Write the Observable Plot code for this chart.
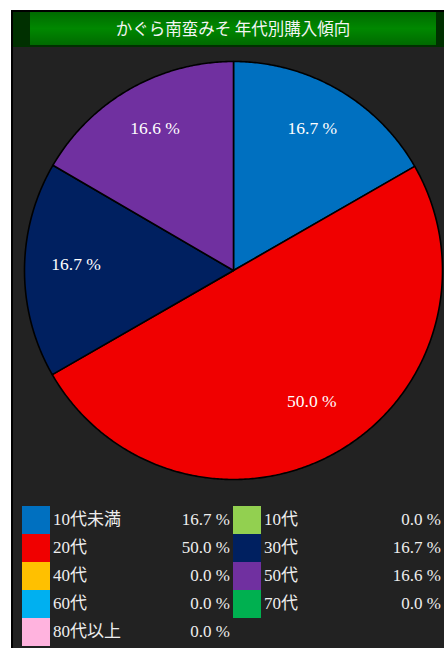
<!DOCTYPE html>
<html>
<head>
<meta charset="utf-8">
<script src="https://cdn.jsdelivr.net/npm/d3@7"></script>
<script src="https://cdn.jsdelivr.net/npm/@observablehq/plot@0.6"></script>
<style>
  html, body { margin: 0; padding: 0; background: #fff; width: 444px; height: 648px; overflow: hidden; }
  #panel { position: absolute; left: 11px; top: 10px; width: 433px; height: 640px;
           border-left: 2px solid #000; border-top: 2px solid #000; background: #222; }
  #header { position: absolute; left: 0; top: 0; width: 431px; height: 35px; background: #003000; }
  #titlebox { position: absolute; left: 17px; top: 0px; width: 406px; height: 33px;
              background: linear-gradient(#006a00, #008800 50%, #006a00);
              color: #f4f4f4; font: 16.5px "Noto Sans CJK JP", sans-serif; line-height: 33px; text-align: center; }
  #chart { position: absolute; left: 0; top: 35px; }
  #legend { position: absolute; left: 9px; top: 494px; width: 422px;
            display: grid; grid-template-columns: 211px 211px; grid-auto-rows: 28px; }
  .item { position: relative; height: 28px; color: #eee;
          font: 17px "Liberation Serif", "Noto Sans CJK JP", serif; line-height: 28px; }
  .sw { position: absolute; left: 0; top: 0; width: 28px; height: 28px; }
  .lab { position: absolute; left: 31px; top: 0; }
  .val { position: absolute; right: 3px; top: 0; }
</style>
</head>
<body>
<div id="panel">
  <div id="header"><div id="titlebox"></div></div>
  <div id="chart"></div>
  <div id="legend"></div>
</div>
<script>
const title = "かぐら南蛮みそ 年代別購入傾向";
const categories = ["10代未満", "10代", "20代", "30代", "40代", "50代", "60代", "70代", "80代以上"];
const shares = [16.7, 0.0, 50.0, 16.7, 0.0, 16.6, 0.0, 0.0, 0.0];
const palette = ["#0070C0", "#92D050", "#F00000", "#002060", "#FFC000", "#7030A0", "#00B0F0", "#00B050", "#FFB3DE"];

document.getElementById("titlebox").textContent = title;

const rows = categories.map((c, i) => ({cat: c, share: shares[i]}));
const arcs = d3.pie().sort(null).value(d => d.share)(rows).filter(a => a.data.share > 0);

const points = [];
const labels = [];
for (const a of arcs) {
  const cat = a.data.cat;
  points.push({cat, x: 0, y: 0});
  const n = Math.max(2, Math.ceil((a.endAngle - a.startAngle) / (Math.PI / 360)));
  for (let k = 0; k <= n; k++) {
    const t = a.startAngle + (a.endAngle - a.startAngle) * k / n;
    points.push({cat, x: Math.sin(t), y: Math.cos(t)});
  }
  points.push({cat, x: 0, y: 0});
  const m = (a.startAngle + a.endAngle) / 2;
  labels.push({x: 0.753 * Math.sin(m), y: 0.753 * Math.cos(m), text: a.data.share.toFixed(1) + " %"});
}

const chart = Plot.plot({
  width: 431,
  height: 453,
  marginLeft: 11,
  marginRight: 2,
  marginTop: 14,
  marginBottom: 21,
  x: {domain: [-1, 1], axis: null},
  y: {domain: [-1, 1], axis: null},
  color: {domain: categories, range: palette},
  style: {background: "transparent", overflow: "visible"},
  marks: [
    Plot.line(points, {x: "x", y: "y", z: "cat", fill: "cat", stroke: "#000", strokeWidth: 1.6, strokeLinejoin: "round"}),
    Plot.text(labels, {x: "x", y: "y", text: "text", dy: -6, fill: "#fff", fontSize: 17.5, fontFamily: "Liberation Serif"})
  ]
});
document.getElementById("chart").appendChild(chart);

const legend = document.getElementById("legend");
rows.forEach((r, i) => {
  const it = document.createElement("div");
  it.className = "item";
  const sw = document.createElement("div");
  sw.className = "sw";
  sw.style.background = chart.scale("color").apply(r.cat);
  const lab = document.createElement("div");
  lab.className = "lab";
  lab.textContent = r.cat;
  const val = document.createElement("div");
  val.className = "val";
  val.textContent = r.share.toFixed(1) + " %";
  it.append(sw, lab, val);
  legend.appendChild(it);
});
</script>
</body>
</html>
